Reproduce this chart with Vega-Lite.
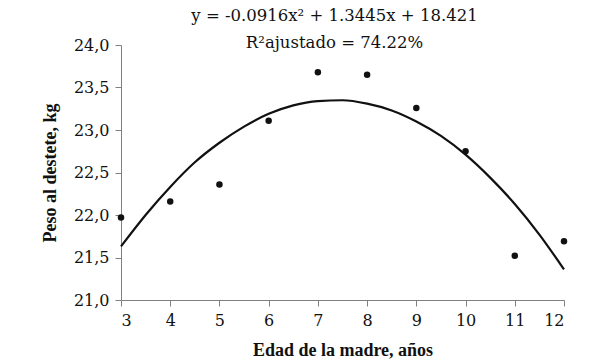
{
  "$schema": "https://vega.github.io/schema/vega-lite/v6.json",
  "autosize": "none",
  "width": 443,
  "height": 255,
  "padding": {"left": 121, "top": 45, "right": 37, "bottom": 64},
  "background": "white",
  "config": {
    "view": {"stroke": null},
    "axis": {
      "grid": false,
      "domainColor": "#808080",
      "tickColor": "#808080",
      "tickSize": 6,
      "labelFont": "DejaVu Serif",
      "labelFontSize": 16,
      "labelColor": "#111111",
      "titleFont": "Liberation Serif",
      "titleFontSize": 18,
      "titleFontWeight": "bold",
      "titleColor": "#111111"
    }
  },
  "title": {
    "text": ["y = -0.0916x² + 1.3445x + 18.421", "R²ajustado = 74.22%"],
    "font": "DejaVu Serif",
    "fontSize": 16.5,
    "fontWeight": "normal",
    "color": "#111111",
    "anchor": "middle",
    "lineHeight": 27,
    "offset": -14,
    "dx": -8
  },
  "layer": [
    {
      "data": {
        "values": [
          {"edad": 3, "ajuste": 21.63},
          {"edad": 3.5, "ajuste": 22.0},
          {"edad": 4, "ajuste": 22.33},
          {"edad": 4.5, "ajuste": 22.62},
          {"edad": 5, "ajuste": 22.85},
          {"edad": 5.5, "ajuste": 23.04},
          {"edad": 6, "ajuste": 23.19},
          {"edad": 6.5, "ajuste": 23.29},
          {"edad": 7, "ajuste": 23.34},
          {"edad": 7.5, "ajuste": 23.35},
          {"edad": 8, "ajuste": 23.31},
          {"edad": 8.5, "ajuste": 23.23},
          {"edad": 9, "ajuste": 23.1},
          {"edad": 9.5, "ajuste": 22.93},
          {"edad": 10, "ajuste": 22.71},
          {"edad": 10.5, "ajuste": 22.44},
          {"edad": 11, "ajuste": 22.13},
          {"edad": 11.5, "ajuste": 21.77},
          {"edad": 12, "ajuste": 21.36}
        ]
      },
      "mark": {"type": "line", "color": "#111111", "strokeWidth": 2.2, "interpolate": "monotone"},
      "encoding": {
        "x": {
          "field": "edad", "type": "quantitative",
          "scale": {"domain": [3, 12], "nice": false, "zero": false},
          "axis": {"values": [3,4,5,6,7,8,9,10,11,12], "title": "Edad de la madre, años", "labelPadding": 6, "titlePadding": 13}
        },
        "y": {
          "field": "ajuste", "type": "quantitative",
          "scale": {"domain": [21, 24], "nice": false, "zero": false},
          "axis": {"values": [21, 21.5, 22, 22.5, 23, 23.5, 24], "title": "Peso al destete, kg", "labelExpr": "replace(format(datum.value, '.1f'), '.', ',')", "labelPadding": 6, "titlePadding": 14}
        }
      }
    },
    {
      "data": {
        "values": [
          {"edad": 3, "peso": 21.97},
          {"edad": 4, "peso": 22.16},
          {"edad": 5, "peso": 22.36},
          {"edad": 6, "peso": 23.11},
          {"edad": 7, "peso": 23.68},
          {"edad": 8, "peso": 23.65},
          {"edad": 9, "peso": 23.26},
          {"edad": 10, "peso": 22.75},
          {"edad": 11, "peso": 21.52},
          {"edad": 12, "peso": 21.69}
        ]
      },
      "mark": {"type": "point", "filled": true, "color": "#111111", "opacity": 1, "size": 42},
      "encoding": {
        "x": {"field": "edad", "type": "quantitative"},
        "y": {"field": "peso", "type": "quantitative"}
      }
    }
  ]
}
